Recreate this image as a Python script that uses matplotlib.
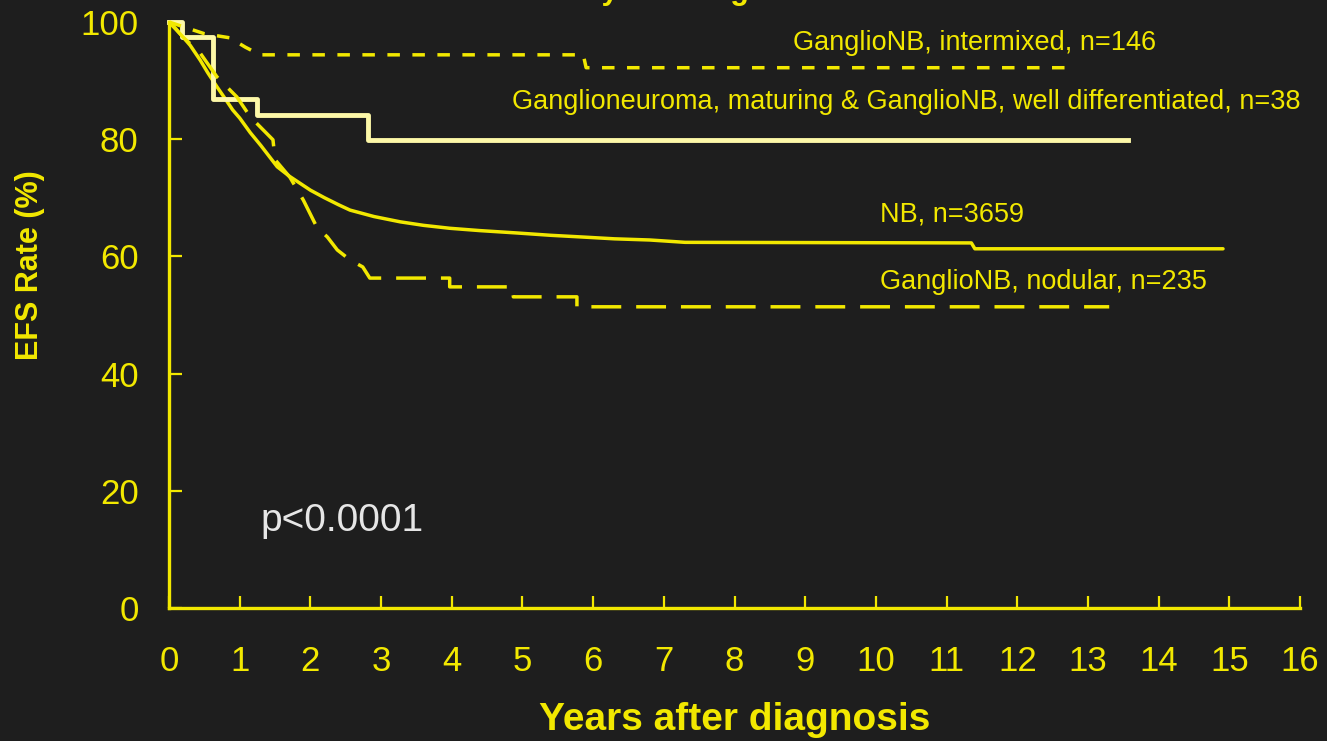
import matplotlib

matplotlib.use("Agg")
import matplotlib.pyplot as plt

BG = "#1e1e1e"
YELLOW = "#f2e800"
CREAM = "#fdf8a8"

# Event-free survival curves (years, %)
nb_years = [0, 0.1, 0.2, 0.3, 0.44, 0.55, 0.68, 0.8, 0.9, 1.0, 1.15, 1.3, 1.53, 1.7, 1.85, 2.0, 2.2, 2.4, 2.56,
            2.9, 3.27, 3.6, 3.97, 4.4, 4.92, 5.4, 5.86, 6.3, 6.8, 7.3, 11.35, 11.4, 14.91]
nb_efs = [100, 98.8, 97.4, 96.0, 93.5, 91.3, 88.9, 86.8, 85.0, 83.6, 81.1, 78.9, 75.3, 73.7, 72.5, 71.3, 70.0, 68.8, 67.9,
          66.8, 65.9, 65.3, 64.8, 64.4, 64.0, 63.6, 63.3, 63.0, 62.8, 62.4, 62.3, 61.3, 61.3]

gnr_years = [0, 0.18, 0.62, 1.25, 2.82, 13.57]
gnr_efs = [100, 97.4, 86.8, 84.2, 79.9, 79.9]

intermixed_years = [0, 0.5, 0.86, 1.08, 1.29, 5.86, 5.9, 12.8]
intermixed_efs = [100, 98.0, 97.3, 95.7, 94.4, 94.4, 92.2, 92.2]

nodular_years = [0, 0.2, 0.44, 0.68, 0.96, 1.15, 1.47, 1.5, 1.71, 1.9, 2.09, 2.24, 2.38, 2.56, 2.74, 2.84,
                 3.97, 3.97, 4.87, 4.87, 5.77, 5.77, 13.3]
nodular_efs = [100, 97.4, 94.7, 90.6, 87.2, 83.8, 79.9, 76.5, 73.5, 69.6, 65.0, 63.3, 61.1, 59.4, 58.2, 56.3,
               56.3, 54.8, 54.8, 53.1, 53.1, 51.4, 51.4]

x_ticks = list(range(0, 17))
y_ticks = [0, 20, 40, 60, 80, 100]

labels = {
    "intermixed": "GanglioNB, intermixed, n=146",
    "gnr": "Ganglioneuroma, maturing & GanglioNB, well differentiated, n=38",
    "nb": "NB, n=3659",
    "nodular": "GanglioNB, nodular, n=235",
}

plt.rcParams["font.family"] = ["Liberation Sans", "DejaVu Sans"]

fig = plt.figure(figsize=(13.27, 7.41), dpi=100, facecolor=BG)
ax = fig.add_axes([0.1274, 0.1795, 0.8523, 0.7908], facecolor=BG)

lw = 2.5
ax.plot(nb_years, nb_efs, color=YELLOW, lw=lw, clip_on=False, solid_capstyle="round")
ax.step(gnr_years, gnr_efs, where="post", color=CREAM, lw=3.5, clip_on=False)
ax.plot(intermixed_years, intermixed_efs, color=YELLOW, lw=lw,
        linestyle=(0, (3.6, 3.6)), clip_on=False)
ax.plot(nodular_years, nodular_efs, color=YELLOW, lw=lw,
        linestyle=(0, (8.6, 4.3)), clip_on=False)

ax.set_xlim(0, 16)
ax.set_ylim(0, 100)
ax.set_xticks(x_ticks)
ax.set_yticks(y_ticks)
for side in ("top", "right"):
    ax.spines[side].set_visible(False)
for side in ("left", "bottom"):
    ax.spines[side].set_color(YELLOW)
    ax.spines[side].set_linewidth(2.4)
ax.tick_params(axis="both", direction="in", length=9, width=1.6, color=YELLOW, labelcolor=YELLOW)
ax.tick_params(axis="x", labelsize=25, pad=27)
ax.tick_params(axis="y", labelsize=25, pad=22)

text_kw = dict(color=YELLOW, fontsize=19.5, va="center", ha="left")
ax.text(8.83, 96.4, labels["intermixed"], **text_kw)
ax.text(4.85, 86.3, labels["gnr"], **text_kw)
ax.text(10.06, 67.2, labels["nb"], **text_kw)
ax.text(10.06, 55.6, labels["nodular"], **text_kw)
ax.text(1.29, 14.8, "p<0.0001", color="#e6e6e6", fontsize=28, va="center", ha="left")

fig.text(735 / 1327, 1 - 720 / 741, "Years after diagnosis", color=YELLOW, fontsize=28,
         fontweight="bold", ha="center", va="center")
fig.text(30 / 1327, 1 - 265 / 741, "EFS Rate (%)", color=YELLOW, fontsize=22,
         fontweight="bold", ha="center", va="center", rotation=90)
# title sits above the canvas, only its descenders remain in view
fig.text(515 / 1327, 1.0015, "EFS by Histologic Grade", color=YELLOW, fontsize=22,
         fontweight="bold", ha="left", va="baseline")

fig.savefig("out.png", dpi=100, facecolor=BG)
